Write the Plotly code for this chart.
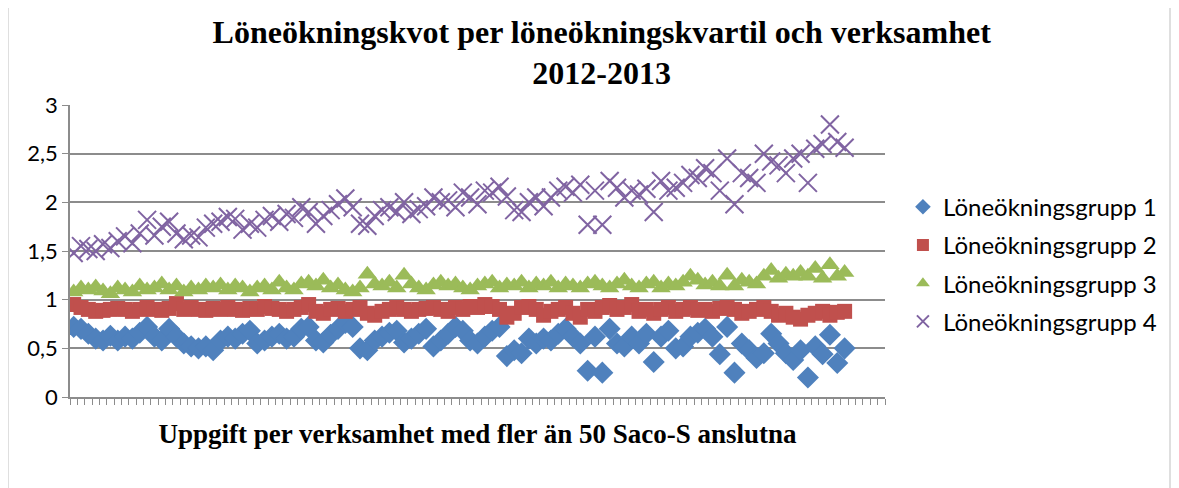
import plotly.graph_objects as go

categories = list(range(1, 107))

grupp1 = [0.72,0.70,0.65,0.60,0.58,0.63,0.58,0.62,0.60,0.66,
          0.72,0.62,0.58,0.70,0.62,0.55,0.52,0.50,0.52,0.48,
          0.58,0.62,0.60,0.65,0.68,0.55,0.58,0.62,0.65,0.60,
          0.62,0.70,0.72,0.58,0.56,0.64,0.70,0.76,0.72,0.50,
          0.48,0.58,0.62,0.66,0.68,0.56,0.60,0.65,0.70,0.52,
          0.58,0.65,0.72,0.68,0.58,0.55,0.62,0.68,0.72,0.42,
          0.48,0.45,0.60,0.55,0.60,0.58,0.65,0.70,0.62,0.55,
          0.27,0.62,0.25,0.70,0.55,0.52,0.62,0.55,0.65,0.36,
          0.62,0.68,0.50,0.52,0.62,0.66,0.70,0.62,0.44,0.72,
          0.25,0.55,0.48,0.40,0.45,0.65,0.55,0.45,0.38,0.48,
          0.20,0.52,0.44,0.64,0.35,0.50]

grupp2 = [0.95,0.92,0.90,0.88,0.89,0.90,0.91,0.90,0.88,0.90,
          0.92,0.90,0.89,0.91,0.96,0.90,0.92,0.90,0.89,0.91,
          0.90,0.92,0.90,0.89,0.91,0.90,0.93,0.91,0.90,0.88,
          0.90,0.92,0.95,0.88,0.86,0.90,0.91,0.88,0.90,0.92,
          0.86,0.84,0.88,0.90,0.92,0.90,0.88,0.90,0.91,0.92,
          0.90,0.88,0.92,0.90,0.93,0.92,0.95,0.93,0.90,0.82,
          0.86,0.92,0.93,0.90,0.84,0.88,0.90,0.92,0.86,0.82,
          0.90,0.88,0.92,0.94,0.90,0.92,0.95,0.88,0.90,0.86,
          0.90,0.92,0.88,0.90,0.92,0.89,0.90,0.88,0.91,0.92,
          0.90,0.86,0.88,0.90,0.92,0.88,0.84,0.86,0.82,0.80,
          0.84,0.86,0.88,0.84,0.87,0.88]

grupp3 = [1.08,1.12,1.10,1.13,1.09,1.06,1.12,1.10,1.08,1.14,
          1.10,1.12,1.16,1.10,1.14,1.08,1.12,1.10,1.14,1.12,
          1.15,1.10,1.14,1.12,1.08,1.12,1.14,1.10,1.18,1.12,
          1.10,1.16,1.18,1.14,1.20,1.12,1.15,1.10,1.08,1.12,
          1.26,1.16,1.14,1.18,1.12,1.25,1.16,1.12,1.10,1.15,
          1.18,1.14,1.16,1.12,1.10,1.14,1.16,1.18,1.12,1.15,
          1.14,1.18,1.12,1.16,1.14,1.18,1.12,1.16,1.14,1.12,
          1.16,1.18,1.14,1.12,1.16,1.20,1.14,1.12,1.16,1.18,
          1.12,1.16,1.14,1.18,1.24,1.20,1.15,1.18,1.14,1.25,
          1.14,1.20,1.18,1.16,1.24,1.30,1.22,1.26,1.24,1.28,
          1.24,1.32,1.22,1.36,1.24,1.28]

grupp4 = [1.48,1.55,1.52,1.50,1.57,1.53,1.60,1.65,1.58,1.68,
          1.82,1.66,1.75,1.80,1.68,1.62,1.66,1.64,1.74,1.78,
          1.80,1.85,1.83,1.72,1.78,1.74,1.82,1.86,1.80,1.88,
          1.84,1.95,1.90,1.78,1.86,1.92,1.98,2.04,1.95,1.78,
          1.76,1.86,1.92,1.95,1.90,2.00,1.88,1.93,1.96,2.05,
          2.00,2.02,1.95,2.10,2.05,1.98,2.12,2.10,2.16,2.06,
          1.92,1.90,2.00,2.05,1.96,2.05,2.12,2.16,2.10,2.18,
          1.77,2.12,1.77,2.22,2.15,2.05,2.12,2.08,2.14,1.90,
          2.22,2.12,2.15,2.20,2.28,2.25,2.35,2.30,2.12,2.45,
          1.98,2.30,2.25,2.20,2.50,2.42,2.38,2.30,2.45,2.50,
          2.20,2.55,2.60,2.80,2.62,2.56]

series_names = ["Löneökningsgrupp 1", "Löneökningsgrupp 2",
                "Löneökningsgrupp 3", "Löneökningsgrupp 4"]

y_tickvals = [0, 0.5, 1, 1.5, 2, 2.5, 3]
y_ticktext = ["0", "0,5", "1", "1,5", "2", "2,5", "3"]

fig = go.Figure()
fig.add_trace(go.Scatter(x=categories, y=grupp1, mode="markers", name=series_names[0],
                         legendgroup="g1",
                         marker=dict(symbol="diamond", size=17, color="#4F81BD")))
fig.add_trace(go.Scatter(x=categories, y=grupp2, mode="markers", name=series_names[1],
                         legendgroup="g2",
                         marker=dict(symbol="square", size=15, color="#C0504D")))
fig.add_trace(go.Scatter(x=categories, y=grupp3, mode="markers", name=series_names[2],
                         legendgroup="g3",
                         marker=dict(symbol="triangle-up", size=17, color="#9BBB59")))
fig.add_trace(go.Scatter(x=categories, y=grupp4, mode="markers", name=series_names[3],
                         legendgroup="g4",
                         marker=dict(symbol="x-thin", size=18, color="#8064A2",
                                     line=dict(color="#8064A2", width=2))))

fig.update_layout(
    width=1171, height=480,
    paper_bgcolor="white", plot_bgcolor="white",
    margin=dict(l=62, r=294, t=97, b=91),
    title=dict(text="<b>Löneökningskvot per löneökningskvartil och verksamhet<br>2012-2013</b>",
               x=0.507, xanchor="center", y=0.928, yanchor="top",
               font=dict(family="Liberation Serif", size=32, color="black")),
    font=dict(family="Lato", size=22, color="black"),
    showlegend=True,
    legend=dict(x=1.022, y=0.455, xanchor="left", yanchor="middle",
                font=dict(family="Lato", size=24, color="black"),
                bgcolor="rgba(0,0,0,0)", itemsizing="constant",
                tracegroupgap=4),
    xaxis=dict(range=[0.5, 111.5], tickmode="linear", tick0=0.5, dtick=1,
               showticklabels=False, ticks="outside", ticklen=6, tickcolor="#8c8c8c",
               showgrid=False, showline=True, linecolor="#8c8c8c", linewidth=1.5,
               zeroline=False,
               title=dict(text="<b>Uppgift per verksamhet med fler än 50 Saco-S anslutna</b>",
                          font=dict(family="Liberation Serif", size=27, color="black"),
                          standoff=20)),
    yaxis=dict(range=[0, 3], tickvals=y_tickvals, ticktext=y_ticktext,
               showgrid=True, gridcolor="#8c8c8c", gridwidth=1.5,
               showline=True, linecolor="#8c8c8c", linewidth=1.5,
               ticks="outside", ticklen=6, tickcolor="#8c8c8c",
               zeroline=False, tickfont=dict(family="Lato", size=22, color="black")),
)

fig.add_shape(type="rect", xref="paper", yref="paper",
              x0=(8 - 70) / 815, x1=(1170 - 70) / 815,
              y0=(397 - 500) / 292, y1=(397 - 1) / 292,
              line=dict(color="#bfbfbf", width=1), fillcolor="rgba(0,0,0,0)", layer="below")

fig.write_html("out.html")
